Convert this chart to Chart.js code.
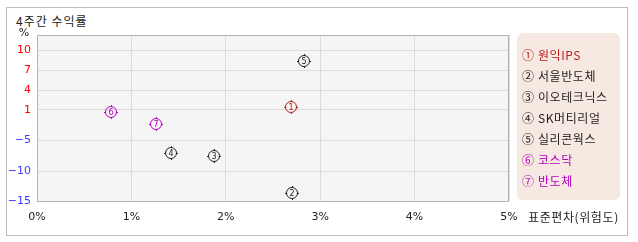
<!DOCTYPE html>
<html>
<head>
<meta charset="utf-8">
<script src="https://cdn.jsdelivr.net/npm/chart.js@4/dist/chart.umd.min.js"></script>
<style>
    body { margin: 0; background: #fff; font-family: "Noto Sans CJK KR", "DejaVu Sans", sans-serif; }
    #wrap { position: relative; width: 638px; height: 242px; }
    #frame { position: absolute; left: 6px; top: 7px; width: 622px; height: 229px; border: 1px solid #bdbdbd; box-sizing: border-box; }
    #title { position: absolute; left: 16px; top: 12px; font-size: 12px; color: #222; white-space: pre; letter-spacing: 1px; }
    #xTitle { position: absolute; left: 528px; top: 208px; font-size: 12px; color: #222; letter-spacing: 0.6px; }
    #legend { position: absolute; left: 517px; top: 33px; width: 103px; height: 167px; background: #f6e9e2; border-radius: 6px; }
    #legend div { position: absolute; left: 5px; font-size: 12px; line-height: 14px; white-space: pre; letter-spacing: 0.6px; }
    canvas { position: absolute; left: 0; top: 0; }
</style>
</head>
<body>
<div id="wrap">
    <div id="frame"></div>
    <div id="title">4주간 수익률</div>
    <canvas id="riskChart" width="638" height="242"></canvas>
    <div id="xTitle">표준편차(위험도)</div>
    <div id="legend"></div>
</div>
<script>
// Data
const names = ['원익IPS', '서울반도체', '이오테크닉스', 'SK머티리얼', '실리콘웍스', '코스닥', '반도체'];
const marks = ['①', '②', '③', '④', '⑤', '⑥', '⑦'];
const riskValues = [2.69, 2.70, 1.87, 1.42, 2.83, 0.78, 1.26];   // x, std dev %
const returnValues = [1.5, -13.7, -7.5, -7.1, 8.3, 0.7, -1.8];   // y, 4-week return %
const colors = ['#b81c1c', '#222222', '#222222', '#222222', '#222222', '#b400c0', '#b400c0'];
const xTicks = [0, 1, 2, 3, 4, 5];
const yTicks = [10, 7, 4, 1, -5, -10, -15];

// y axis in the original is not linear: each tick gets its own slot
const yStops = [[-15, 0], [-10, 30], [-5, 61], [1, 91], [4, 111], [7, 131], [10, 151], [12.25, 166]];

class StepScale extends Chart.LinearScale {
    getPixelForValue(value) {
        if (value === null || value === undefined) return NaN;
        const total = yStops[yStops.length - 1][1];
        let i = 0;
        while (i < yStops.length - 2 && value > yStops[i + 1][0]) i++;
        const a = yStops[i], b = yStops[i + 1];
        const pos = a[1] + (value - a[0]) / (b[0] - a[0]) * (b[1] - a[1]);
        return this.getPixelForDecimal(pos / total);
    }
    getValueForPixel(pixel) {
        const total = yStops[yStops.length - 1][1];
        const pos = this.getDecimalForPixel(pixel) * total;
        let i = 0;
        while (i < yStops.length - 2 && pos > yStops[i + 1][1]) i++;
        const a = yStops[i], b = yStops[i + 1];
        return a[0] + (pos - a[1]) / (b[1] - a[1]) * (b[0] - a[0]);
    }
}
StepScale.id = 'step';
StepScale.defaults = Chart.LinearScale.defaults;
Chart.register(StepScale);

// circled-number marker images
function makeMarker(label, color) {
    const c = document.createElement('canvas');
    c.width = 16; c.height = 16;
    const g = c.getContext('2d');
    g.strokeStyle = color;
    g.fillStyle = color;
    g.lineWidth = 1;
    g.beginPath();
    g.arc(8, 8, 5.5, 0, Math.PI * 2);
    g.stroke();
    g.beginPath();
    g.moveTo(8.5, 1); g.lineTo(8.5, 2.5);
    g.moveTo(8.5, 13.5); g.lineTo(8.5, 15);
    g.moveTo(1, 8.5); g.lineTo(2.5, 8.5);
    g.moveTo(13.5, 8.5); g.lineTo(15, 8.5);
    g.stroke();
    g.font = '8px "DejaVu Sans", sans-serif';
    g.textAlign = 'center';
    g.textBaseline = 'middle';
    g.fillText(label, 8, 8.5);
    return c;
}

const points = riskValues.map((x, i) => ({ x: x, y: returnValues[i] }));
const markerImages = marks.map((m, i) => makeMarker(String(i + 1), colors[i]));

// legend
const legend = document.getElementById('legend');
names.forEach((name, i) => {
    const d = document.createElement('div');
    d.style.top = (15 + i * 21) + 'px';
    d.style.color = colors[i];
    d.textContent = marks[i] + ' ' + name;
    legend.appendChild(d);
});

// snap markers to whole pixels so the little images stay crisp
const snapPoints = {
    id: 'snapPoints',
    beforeDatasetsDraw(chart) {
        chart.getDatasetMeta(0).data.forEach(el => {
            el.x = Math.round(el.x);
            el.y = Math.round(el.y);
        });
    }
};

// plot background + frame lines
const plotBg = {
    id: 'plotBg',
    beforeDraw(chart) {
        const a = chart.chartArea;
        const g = chart.ctx;
        g.save();
        g.fillStyle = '#f5f5f5';
        g.fillRect(a.left, a.top, a.right - a.left, a.bottom - a.top);
        g.restore();
    },
    afterDatasetsDraw(chart) {
        const a = chart.chartArea;
        const g = chart.ctx;
        g.save();
        g.strokeStyle = '#b4b4b4';
        g.lineWidth = 1;
        g.beginPath();
        g.moveTo(a.left + 0.5, a.top);
        g.lineTo(a.left + 0.5, a.bottom + 0.5);
        g.lineTo(a.right, a.bottom + 0.5);
        g.moveTo(a.left, a.top + 0.5);
        g.lineTo(a.right, a.top + 0.5);
        g.moveTo(a.right - 0.5, a.top);
        g.lineTo(a.right - 0.5, a.bottom);
        g.stroke();
        g.fillStyle = '#222';
        g.font = '11px "DejaVu Sans", sans-serif';
        g.textAlign = 'center';
        g.textBaseline = 'middle';
        g.fillText('%', 24, 33);
        g.restore();
    }
};

new Chart(document.getElementById('riskChart'), {
    type: 'scatter',
    data: {
        datasets: [{
            data: points,
            pointStyle: markerImages,
            pointRadius: 8,
            pointHoverRadius: 8
        }]
    },
    options: {
        responsive: false,
        animation: false,
        events: [],
        layout: {
            padding: { left: 0, top: 35, right: 129, bottom: 0 }
        },
        plugins: {
            legend: { display: false },
            tooltip: { enabled: false }
        },
        scales: {
            x: {
                type: 'linear',
                min: 0,
                max: 5,
                afterBuildTicks: (scale) => { scale.ticks = xTicks.map(v => ({ value: v })); },
                afterFit: (scale) => { scale.height = 41; },
                border: { display: false },
                grid: { color: '#dcdcdc', drawTicks: false },
                ticks: {
                    padding: 10,
                    color: '#222',
                    font: { family: '"DejaVu Sans", sans-serif', size: 11 },
                    maxRotation: 0,
                    callback: (v) => v + '%'
                }
            },
            y: {
                type: 'step',
                min: -15,
                max: 12.25,
                afterBuildTicks: (scale) => { scale.ticks = yTicks.map(v => ({ value: v })); },
                afterFit: (scale) => { scale.width = 37; },
                border: { display: false },
                grid: { color: '#dcdcdc', drawTicks: false },
                ticks: {
                    padding: 6,
                    color: (ctx) => ctx.tick.value > 0 ? '#ff0000' : '#3c3cff',
                    font: { family: '"DejaVu Sans", sans-serif', size: 11 },
                    callback: (v) => v < 0 ? '\u2212' + Math.abs(v) : String(v)
                }
            }
        }
    },
    plugins: [plotBg, snapPoints]
});
</script>
</body>
</html>
